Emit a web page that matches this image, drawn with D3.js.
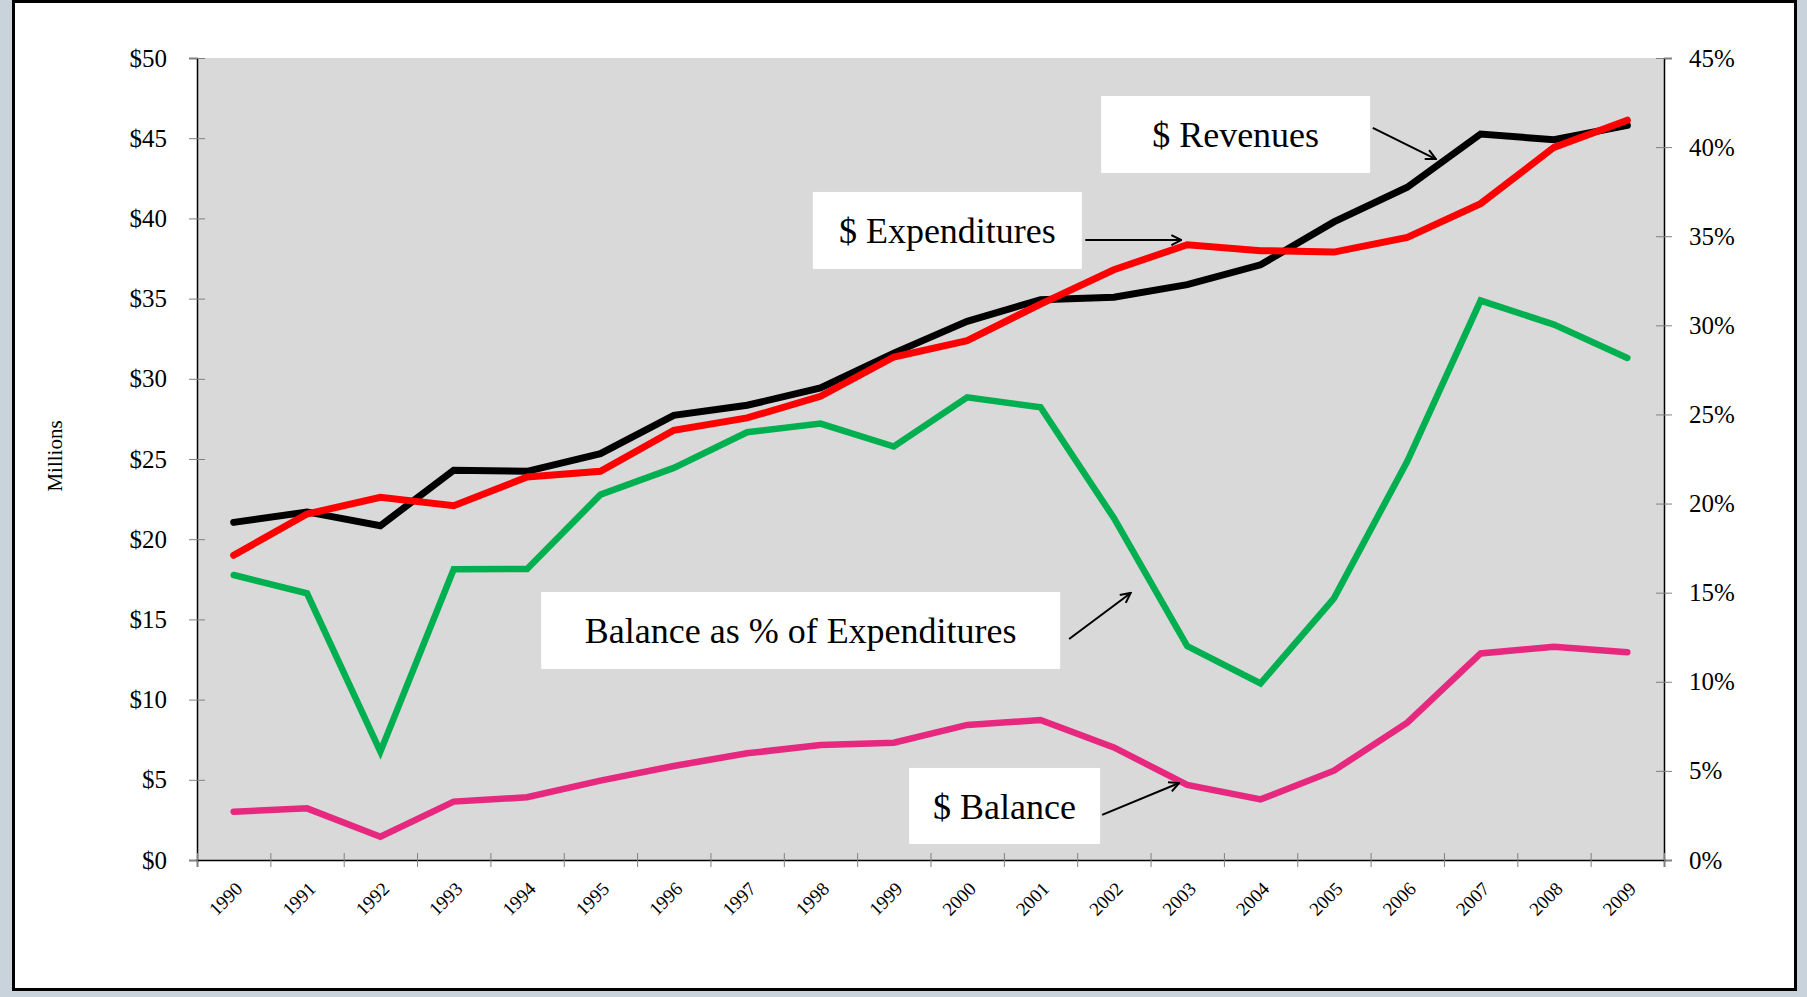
<!DOCTYPE html>
<html>
<head>
  <meta charset="utf-8">
  <title>Revenues, Expenditures and Balance</title>
  <script src="https://d3js.org/d3.v7.min.js"></script>
  <style>
    body { margin: 0; background: #c8d3db; }
    text { font-family: 'Liberation Serif', 'Times New Roman', serif; fill: #000; }
  </style>
</head>
<body>
<div id="chart"></div>
<script type="text/javascript">
  // data
  let years = [1990, 1991, 1992, 1993, 1994, 1995, 1996, 1997, 1998, 1999,
               2000, 2001, 2002, 2003, 2004, 2005, 2006, 2007, 2008, 2009];
  let revenues = [21.05, 21.7, 20.84, 24.3, 24.23, 25.33, 27.72, 28.35, 29.43, 31.6,
                  33.58, 34.93, 35.08, 35.87, 37.11, 39.78, 41.94, 45.26, 44.9, 45.8];
  let expenditures = [19.0, 21.57, 22.61, 22.09, 23.88, 24.23, 26.79, 27.56, 28.91, 31.36,
                      32.38, 34.66, 36.8, 38.36, 37.99, 37.9, 38.82, 40.92, 44.43, 46.12];
  let balance = [3.01, 3.22, 1.45, 3.64, 3.91, 4.95, 5.86, 6.65, 7.17, 7.31,
                 8.42, 8.73, 7.02, 4.68, 3.78, 5.57, 8.56, 12.88, 13.3, 12.95];
  let balancePct = [15.99, 14.96, 6.08, 16.31, 16.33, 20.5, 22.0, 24.0, 24.49, 23.2,
                    25.96, 25.4, 19.19, 12.0, 9.91, 14.68, 22.37, 31.39, 30.04, 28.17];
  let leftTicks = [0, 5, 10, 15, 20, 25, 30, 35, 40, 45, 50];
  let rightTicks = [0, 5, 10, 15, 20, 25, 30, 35, 40, 45];

  // callouts: label, box centre [year, $], box size, arrow [from], [to]
  let callouts = [
    {text: '$ Revenues', c: [2003.66, 45.23], w: 269, h: 77, from: [2005.53, 45.64], to: [2006.39, 43.7]},
    {text: '$ Expenditures', c: [1999.73, 39.25], w: 269, h: 77, from: [2001.61, 38.65], to: [2002.92, 38.65]},
    {text: 'Balance as % of Expenditures', c: [1997.73, 14.31], w: 519, h: 77, from: [2001.39, 13.78], to: [2002.23, 16.65]},
    {text: '$ Balance', c: [2000.51, 3.37], w: 191, h: 76, from: [2001.84, 2.81], to: [2002.89, 4.8]}
  ];

  let W = 1807, H = 997;
  let margin = {top: 58, right: 143, bottom: 137, left: 197};
  let w = W - margin.left - margin.right;
  let h = H - margin.top - margin.bottom;

  let svg = d3.select('#chart')
      .append('svg')
        .attr('width', W)
        .attr('height', H);

  // white panel with black frame
  svg.append('rect')
     .attr('x', 13.5).attr('y', 1.5)
     .attr('width', 1782).attr('height', 988)
     .attr('fill', '#fff')
     .attr('stroke', '#000')
     .attr('stroke-width', 3);

  let g = svg.append('g')
      .attr('transform', `translate(${margin.left},${margin.top})`);

  let x = d3.scaleBand().domain(years).range([0, w]);
  let xc = d => x(d) + x.bandwidth() / 2;
  let xAnn = d3.scaleLinear().domain([1990, 2009]).range([xc(1990), xc(2009)]);
  let xTicks = d3.scaleLinear().domain([0, years.length]).range([0, w]);
  let yL = d3.scaleLinear().domain([0, 50]).range([h, 0]);
  let yR = d3.scaleLinear().domain([0, 45]).range([h, 0]);

  g.append('rect')
   .attr('width', w).attr('height', h)
   .attr('fill', '#d9d9d9');

  // left axis
  let axL = g.append('g')
     .call(d3.axisLeft(yL).tickValues(leftTicks).tickFormat(d => '$' + d).tickSize(8).tickPadding(22));
  axL.selectAll('.tick line').attr('x2', 8).attr('x1', -8).attr('stroke', '#808080');
  axL.selectAll('text').attr('font-size', '25px').style('font-family', 'Liberation Serif');

  // right axis
  let axR = g.append('g')
     .attr('transform', `translate(${w},0)`)
     .call(d3.axisRight(yR).tickValues(rightTicks).tickFormat(d => d + '%').tickSize(8).tickPadding(17));
  axR.selectAll('.tick line').attr('x1', -8).attr('x2', 8).attr('stroke', '#808080');
  axR.selectAll('text').attr('font-size', '25px').style('font-family', 'Liberation Serif');

  // bottom axis: ticks at band edges
  let axB = g.append('g')
     .attr('transform', `translate(0,${h})`)
     .call(d3.axisBottom(xTicks).ticks(years.length).tickFormat('').tickSize(7));
  axB.selectAll('.tick line').attr('y1', -7).attr('stroke', '#808080');

  g.selectAll('.domain').attr('stroke', '#000').attr('stroke-width', 1.5);

  g.selectAll('.year')
   .data(years)
   .enter()
   .append('text')
   .attr('class', 'year')
   .attr('transform', d => `translate(${xc(d) + 10},${h + 30}) rotate(-45)`)
   .attr('text-anchor', 'end')
   .attr('font-size', '19px')
   .text(d => d);

  // y title
  svg.append('text')
     .attr('transform', `translate(62,${margin.top + 398}) rotate(-90)`)
     .attr('text-anchor', 'middle')
     .attr('font-size', '21px')
     .text('Millions');

  // lines
  let lineL = d3.line().x((d, i) => xc(years[i])).y(d => yL(d));
  let lineR = d3.line().x((d, i) => xc(years[i])).y(d => yR(d));

  let series = [
    {vals: balancePct, line: lineR, color: '#00b050', sw: 6.5},
    {vals: balance, line: lineL, color: '#e6297f', sw: 6.5},
    {vals: revenues, line: lineL, color: '#000000', sw: 7},
    {vals: expenditures, line: lineL, color: '#ff0000', sw: 7}
  ];

  g.selectAll('.series')
   .data(series)
   .enter()
   .append('path')
   .attr('class', 'series')
   .attr('d', d => d.line(d.vals))
   .attr('fill', 'none')
   .attr('stroke', d => d.color)
   .attr('stroke-width', d => d.sw)
   .attr('stroke-linejoin', 'miter')
   .attr('stroke-linecap', 'round');

  // callouts
  svg.append('defs').append('marker')
     .attr('id', 'arrow')
     .attr('viewBox', '0 0 12 12')
     .attr('refX', 11).attr('refY', 6)
     .attr('markerWidth', 12).attr('markerHeight', 12)
     .attr('markerUnits', 'userSpaceOnUse')
     .attr('orient', 'auto')
     .append('path')
     .attr('d', 'M1,1 L11,6 L1,11')
     .attr('fill', 'none')
     .attr('stroke', '#000')
     .attr('stroke-width', 2);

  let co = g.selectAll('.callout')
     .data(callouts)
     .enter()
     .append('g')
     .attr('class', 'callout');

  co.append('rect')
    .attr('x', d => xAnn(d.c[0]) - d.w / 2)
    .attr('y', d => yL(d.c[1]) - d.h / 2)
    .attr('width', d => d.w)
    .attr('height', d => d.h)
    .attr('fill', '#fff');

  co.append('text')
    .attr('x', d => xAnn(d.c[0]))
    .attr('y', d => yL(d.c[1]))
    .attr('dy', '0.36em')
    .attr('text-anchor', 'middle')
    .attr('font-size', '36px')
    .attr('xml:space', 'preserve')
    .text(d => d.text);

  co.append('line')
    .attr('x1', d => xAnn(d.from[0]))
    .attr('y1', d => yL(d.from[1]))
    .attr('x2', d => xAnn(d.to[0]))
    .attr('y2', d => yL(d.to[1]))
    .attr('stroke', '#000')
    .attr('stroke-width', 2)
    .attr('marker-end', 'url(#arrow)');
</script>
</body>
</html>
